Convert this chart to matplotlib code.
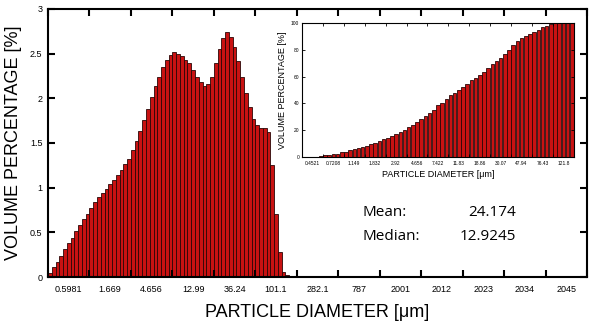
import numpy as np
import matplotlib.pyplot as plt

plt.rcParams['font.family'] = ['Liberation Sans', 'DejaVu Sans']

# volume percentage per size class (main histogram)
volume = [0.05, 0.11, 0.165, 0.24, 0.31, 0.38, 0.44, 0.51, 0.58, 0.645,
          0.71, 0.77, 0.835, 0.89, 0.945, 0.99, 1.04, 1.09, 1.14, 1.20,
          1.26, 1.32, 1.42, 1.52, 1.63, 1.76, 1.88, 2.01, 2.14, 2.24,
          2.35, 2.43, 2.48, 2.52, 2.50, 2.47, 2.43, 2.39, 2.32, 2.24,
          2.18, 2.14, 2.16, 2.24, 2.39, 2.55, 2.68, 2.74, 2.69, 2.57,
          2.42, 2.24, 2.06, 1.90, 1.77, 1.70, 1.665, 1.665, 1.62, 1.25,
          0.71, 0.28, 0.06, 0.02]

# cumulative volume percentage (inset)
cumulative = [0, 0, 0, 0, 1, 1.5, 1.5, 2.3, 2.3, 4, 4, 5, 6, 6.8, 7.3, 8,
              9.8, 10.5, 12, 13.5, 14, 15.8, 17, 18.5, 20, 22.3, 24, 26, 28,
              30.3, 32.5, 35, 38.5, 40.5, 43, 46, 48, 50, 52.5, 54.8, 57.2,
              59.2, 61.5, 63.5, 66.2, 69.2, 71.8, 74.2, 77.2, 79.8, 83.8,
              86.2, 88.5, 90, 91.8, 93, 95, 96.8, 98, 99.2, 100, 100, 100,
              100, 100]

main_labels = ['0.5981', '1.669', '4.656', '12.99', '36.24', '101.1', '282.1',
               '787', '2001', '2012', '2023', '2034', '2045']
inset_labels = ['0.4521', '0.7208', '1.149', '1.832', '2.92', '4.656', '7.422',
                '11.83', '18.86', '30.07', '47.94', '76.43', '121.8']
main_step = 11
inset_step = 5

red = '#c81212'
edge = '#2a0606'

fig = plt.figure(figsize=(5.91, 3.27), dpi=100)

# main histogram
ax = fig.add_axes([0.0812, 0.1529, 0.912, 0.8196])
ax.bar(np.arange(len(volume)) + 0.5, volume, width=1.0, color=red,
       edgecolor=edge, linewidth=0.6)
n_main = main_step * len(main_labels)
ax.set_xlim(0, n_main)
ax.set_ylim(0, 3)
ax.set_xticks(np.arange(0, n_main + 1, main_step))
ax.set_xticklabels([])
ax.set_xticks(np.arange(len(main_labels)) * main_step + main_step / 2, minor=True)
ax.set_xticklabels(main_labels, minor=True, fontsize=6.5)
ax.set_yticks([0, 0.5, 1, 1.5, 2, 2.5, 3])
ax.set_yticklabels(['0', '0.5', '1', '1.5', '2', '2.5', '3'], fontsize=6.5)
ax.tick_params(axis='x', which='minor', length=0, pad=6)
ax.tick_params(which='major', direction='in', top=True, right=True,
               length=5, width=1.5)
ax.tick_params(axis='y', pad=4)
for s in ax.spines.values():
    s.set_linewidth(1.5)
ax.set_xlabel('PARTICLE DIAMETER [μm]', fontsize=13, labelpad=7)
ax.set_ylabel('VOLUME PERCENTAGE [%]', fontsize=13, labelpad=6)

# inset cumulative
ins = fig.add_axes([0.511, 0.520, 0.460, 0.4097])
ins.bar(np.arange(len(cumulative)) + 0.5, cumulative, width=0.85, color=red,
        edgecolor=edge, linewidth=0.6)
n_ins = inset_step * len(inset_labels)
ins.set_xlim(0, n_ins)
ins.set_ylim(0, 100)
ins.set_xticks(np.arange(0, n_ins + 1, inset_step))
ins.set_xticklabels([])
ins.set_xticks(np.arange(len(inset_labels)) * inset_step + inset_step / 2, minor=True)
ins.set_xticklabels(inset_labels, minor=True, fontsize=3.5)
ins.set_yticks([0, 20, 40, 60, 80, 100])
ins.set_yticklabels(['0', '20', '40', '60', '80', '100'], fontsize=3.5)
ins.tick_params(axis='x', which='minor', length=0, pad=3)
ins.tick_params(which='major', direction='in', top=True, right=True,
                length=2, width=0.6, pad=2)
for s in ins.spines.values():
    s.set_linewidth(0.8)
ins.set_xlabel('PARTICLE DIAMETER [μm]', fontsize=6.5, labelpad=3)
ins.set_ylabel('VOLUME PERCENTAGE [%]', fontsize=6.5, labelpad=3)

# statistics
stat_font = ['Open Sans', 'DejaVu Sans']
fig.text(363 / 591, 1 - 212.7 / 327, 'Mean:', fontsize=11, va='center',
         family=stat_font)
fig.text(516 / 591, 1 - 212.7 / 327, '24.174', fontsize=11, va='center',
         ha='right', family=stat_font)
fig.text(363 / 591, 1 - 236.7 / 327, 'Median:', fontsize=11, va='center',
         family=stat_font)
fig.text(516 / 591, 1 - 236.7 / 327, '12.9245', fontsize=11, va='center',
         ha='right', family=stat_font)

fig.savefig('out.png', dpi=100)
